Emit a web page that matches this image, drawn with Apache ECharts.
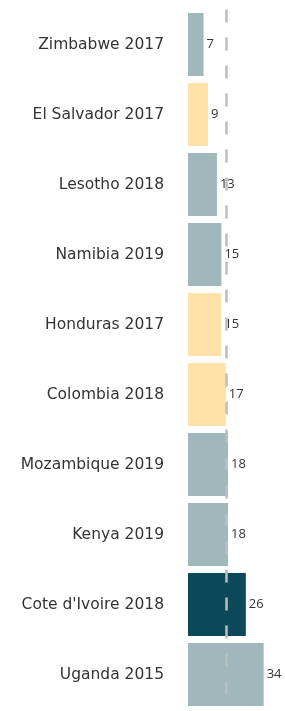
<!DOCTYPE html>
<html>
<head>
<meta charset="utf-8">
<script src="https://cdn.jsdelivr.net/npm/echarts@6/dist/echarts.min.js"></script>
<style>
  html, body { margin: 0; padding: 0; background: #fff; }
  #chart { width: 285px; height: 711px; }
</style>
</head>
<body>
<div id="chart"></div>
<script>
  // survey per country, top to bottom
  var countries = ['Zimbabwe 2017', 'El Salvador 2017', 'Lesotho 2018', 'Namibia 2019', 'Honduras 2017',
                   'Colombia 2018', 'Mozambique 2019', 'Kenya 2019', "Cote d'Ivoire 2018", 'Uganda 2015'];
  var values = [7, 9, 13, 15, 15, 17, 18, 18, 26, 34];
  var groups = ['africa', 'latam', 'africa', 'africa', 'latam', 'latam', 'africa', 'africa', 'focus', 'africa'];
  var average = 17;

  var groupColor = { africa: '#a0b7bc', latam: '#fee2a9', focus: '#0c4a5a' };

  var myChart = echarts.init(document.getElementById('chart'));
  var option = {
    animation: false,
    grid: { left: 188, right: 8, top: 9.5, bottom: 1.5, containLabel: false },
    xAxis: {
      type: 'value',
      min: 0,
      max: 40,
      show: false
    },
    yAxis: {
      type: 'category',
      inverse: true,
      data: countries,
      axisLine: { show: false },
      axisTick: { show: false },
      axisLabel: {
        margin: 24,
        fontFamily: 'DejaVu Sans',
        fontSize: 15.5,
        color: '#333'
      }
    },
    series: [{
      type: 'bar',
      barCategoryGap: '10%',
      data: values.map(function (v, i) {
        return { value: v, itemStyle: { color: groupColor[groups[i]] } };
      }),
      label: {
        show: true,
        position: 'right',
        distance: 3,
        fontFamily: 'Open Sans',
        fontSize: 13,
        color: '#333'
      },
      markLine: {
        silent: true,
        symbol: 'none',
        z: 10,
        label: { show: false },
        lineStyle: { color: '#bdbdbd', width: 2.5, type: [13, 15] },
        data: [{ xAxis: average }]
      }
    }]
  };
  myChart.setOption(option);
</script>
</body>
</html>
